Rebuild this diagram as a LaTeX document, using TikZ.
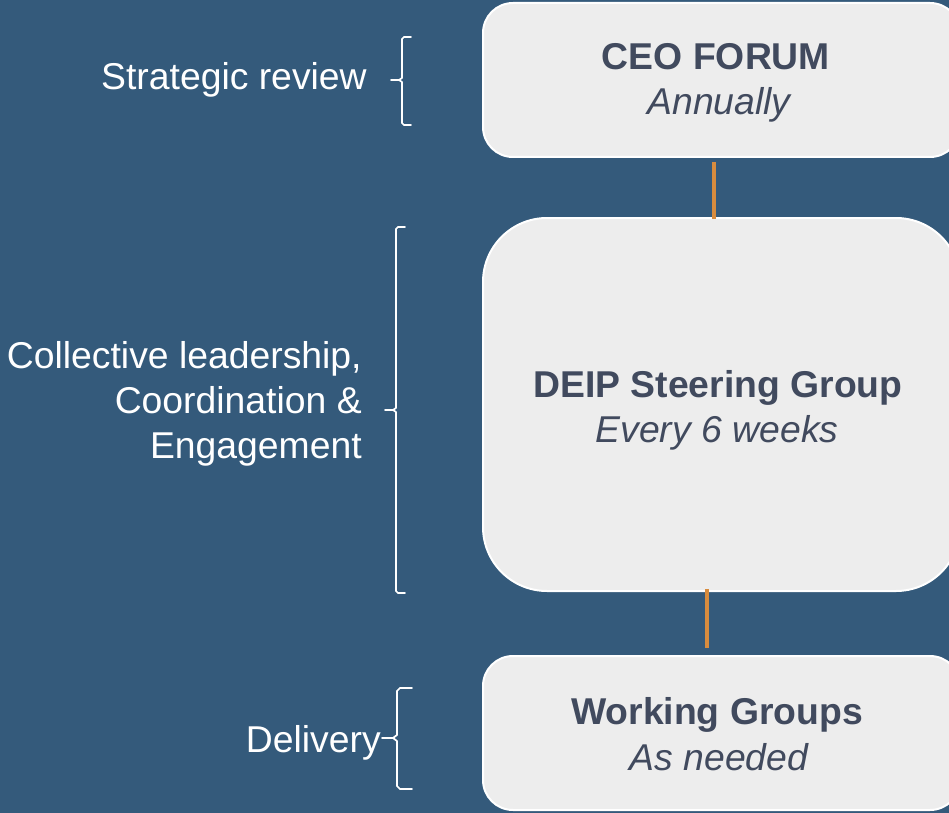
\documentclass[tikz,border=0pt]{standalone}
\usepackage{fontspec}
\setmainfont{Liberation Sans}
\definecolor{bgblue}{RGB}{52,90,123}
\definecolor{boxfill}{RGB}{237,237,237}
\definecolor{boxtext}{RGB}{65,74,94}
\definecolor{linkorange}{RGB}{216,140,62}
\tikzset{
  box/.style={draw=white, line width=1.5pt, fill=boxfill},
  boxlabel/.style={text=boxtext, font=\fontsize{28}{34}\selectfont, inner sep=0pt},
  sidelabel/.style={text=white, font=\fontsize{28}{34}\selectfont, inner sep=0pt, anchor=base east},
  bracestyle/.style={draw=white, line width=1.3pt, line cap=round, line join=round},
  link/.style={draw=linkorange, line width=3pt}
}
\begin{document}
\begin{tikzpicture}[x=0.75pt,y=-0.75pt]
\fill[bgblue] (0,0) rectangle (949,813);
\useasboundingbox (0,0) rectangle (949,813);
% boxes
\draw[box, rounded corners=22.5pt] (483,3) rectangle (960,157);
\draw[box, rounded corners=48pt] (483,218) rectangle (960,591);
\draw[box, rounded corners=22.5pt] (483,656) rectangle (960,810);
% box texts
\node[boxlabel, anchor=base, font=\fontsize{28}{34}\selectfont\bfseries] (ceo) at (716,70) {CEO FORUM};
\node[boxlabel, anchor=base, font=\fontsize{28}{34}\selectfont\itshape] (ceof) at (719,115) {Annually};
\node[boxlabel, anchor=base, font=\fontsize{28}{34}\selectfont\bfseries] (deip) at (718,397) {DEIP Steering Group};
\node[boxlabel, anchor=base, font=\fontsize{28}{34}\selectfont\itshape] (deipf) at (717,442) {Every 6 weeks};
\node[boxlabel, anchor=base, font=\fontsize{28}{34}\selectfont\bfseries] (wg) at (717,724) {Working Groups};
\node[boxlabel, anchor=base, font=\fontsize{28}{34}\selectfont\itshape] (wgf) at (719,770) {As needed};
% connectors
\coordinate (c1a) at (714,162);
\coordinate (c1b) at (714,219);
\coordinate (c2a) at (707,589);
\coordinate (c2b) at (707,648);
\draw[link] (c1a) -- (c1b);
\draw[link] (c2a) -- (c2b);
% side labels
\node[sidelabel] (sr) at (367,90) {Strategic review};
\node[sidelabel] (cl1) at (362,368) {Collective leadership,};
\node[sidelabel] (cl2) at (362,413) {Coordination \&};
\node[sidelabel] (cl3) at (362,458) {Engagement};
\node[sidelabel] (dl) at (381,752) {Delivery};
% braces
\draw[bracestyle] (411,37) -- (404,37) -- (402,39) -- (402,78) -- (399,80) -- (391,80)
  (399,80) -- (402,82) -- (402,123) -- (404,125) -- (411,125);
\draw[bracestyle] (405,227) -- (398,227) -- (396,229) -- (396,408) -- (393,410) -- (385,410)
  (393,410) -- (396,412) -- (396,591) -- (398,593) -- (405,593);
\draw[bracestyle] (412,688) -- (400,688) -- (397,691) -- (397,735) -- (393,738) -- (382,738)
  (393,738) -- (397,741) -- (397,786) -- (400,789) -- (412,789);
\end{tikzpicture}
\end{document}
